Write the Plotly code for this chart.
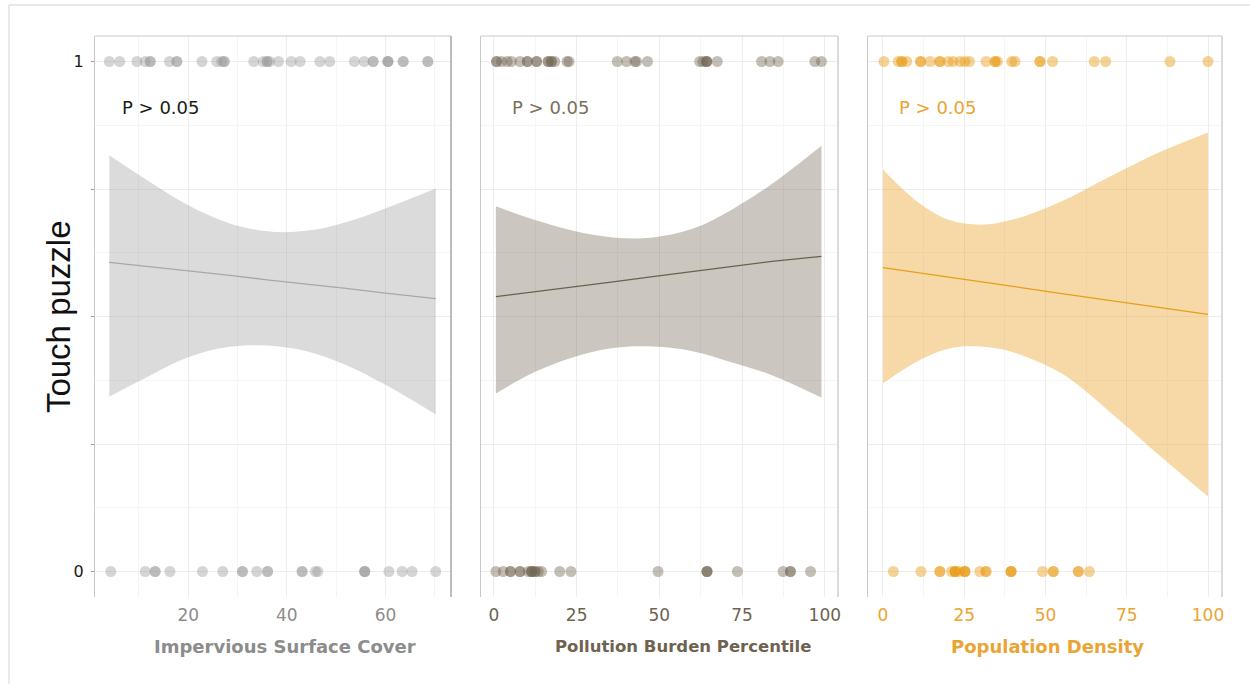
import plotly.graph_objects as go

# ---- outcome: Touch puzzle (0/1) against three neighbourhood measures ----

# Impervious surface cover
imp_x1 = [4.0, 6.1, 9.6, 11.3, 12.3, 12.3, 16.2, 17.7, 17.7, 22.8, 25.8, 26.8, 27.3, 27.3,
          33.3, 35.2, 36.0, 36.0, 36.5, 38.3, 40.9, 42.7, 46.7, 48.7, 53.7, 55.7, 57.5, 57.5,
          60.5, 60.5, 60.5, 63.6, 63.6, 68.6, 68.6]
imp_x0 = [4.3, 11.3, 13.3, 13.3, 16.3, 22.9, 27.0, 31.0, 31.0, 33.9, 36.1, 36.1, 43.1, 43.1,
          45.8, 46.3, 55.8, 55.8, 55.8, 60.7, 63.4, 65.4, 70.2]
imp_fit_x = [4.0, 12.0, 20.0, 28.0, 36.0, 44.0, 52.0, 60.0, 70.2]
imp_fit = [0.606, 0.598, 0.589, 0.581, 0.572, 0.564, 0.555, 0.546, 0.535]
imp_hi = [0.816, 0.765, 0.718, 0.684, 0.667, 0.668, 0.685, 0.712, 0.751]
imp_lo = [0.343, 0.383, 0.420, 0.440, 0.443, 0.432, 0.405, 0.366, 0.308]

# Pollution burden percentile
pol_x1 = [0.8, 0.8, 2.3, 4.0, 5.3, 7.9, 10.1, 10.1, 12.9, 12.9, 16.4, 16.4, 17.4, 17.4, 18.4,
          22.1, 22.7, 37.3, 40.1, 42.6, 43.1, 46.4, 62.2, 63.2, 64.3, 64.3, 64.3, 67.5,
          80.9, 83.4, 85.9, 97.0, 99.0]
pol_x0 = [0.6, 2.8, 5.0, 5.0, 7.9, 7.9, 10.4, 11.4, 11.4, 11.4, 12.4, 12.4, 13.4, 14.4,
          19.9, 23.3, 49.6, 64.4, 64.4, 64.4, 73.6, 87.4, 89.6, 89.6, 95.7]
pol_fit_x = [0.6, 12.0, 24.0, 36.0, 48.0, 60.0, 72.0, 84.0, 99.0]
pol_fit = [0.539, 0.548, 0.558, 0.568, 0.578, 0.588, 0.598, 0.608, 0.618]
pol_hi = [0.716, 0.690, 0.668, 0.655, 0.655, 0.672, 0.710, 0.760, 0.835]
pol_lo = [0.349, 0.390, 0.420, 0.438, 0.441, 0.432, 0.410, 0.385, 0.341]

# Population density
pop_x1 = [0.3, 4.7, 5.8, 5.8, 7.3, 11.6, 11.6, 14.5, 17.5, 17.5, 20.1, 21.6, 23.7, 25.2,
          26.6, 31.7, 34.5, 34.5, 35.2, 39.6, 40.6, 48.3, 48.3, 52.2, 65.0, 68.5, 88.3, 100.0]
pop_x0 = [3.2, 11.7, 17.5, 17.5, 21.1, 22.2, 22.2, 22.2, 23.5, 25.2, 25.2, 25.2, 29.8,
          31.7, 31.7, 39.4, 39.4, 39.4, 49.1, 52.4, 52.4, 60.1, 60.1, 63.5]
pop_fit_x = [0.0, 10.0, 20.0, 30.0, 40.0, 55.0, 70.0, 85.0, 100.0]
pop_fit = [0.596, 0.587, 0.578, 0.568, 0.559, 0.545, 0.531, 0.518, 0.504]
pop_hi = [0.788, 0.728, 0.690, 0.680, 0.690, 0.726, 0.775, 0.822, 0.861]
pop_lo = [0.369, 0.410, 0.437, 0.441, 0.430, 0.388, 0.312, 0.228, 0.147]

panels = [
    dict(title="Impervious Surface Cover", x1=imp_x1, x0=imp_x0, fx=imp_fit_x, fy=imp_fit,
         hi=imp_hi, lo=imp_lo, rng=[1.1, 73.3], ticks=[20, 40, 60], minor=[10, 30, 50, 70],
         dom=[0.0, 0.3159], pt="rgba(150,150,150,0.40)", band="rgba(153,153,153,0.35)",
         line="#a8a8a8", text="#8c8c8c", ptxt="#1a1a1a", edge="#9a9a9a", px=6.2,
         tpos=0.534, tsize=18),
    dict(title="Pollution Burden Percentile", x1=pol_x1, x0=pol_x0, fx=pol_fit_x, fy=pol_fit,
         hi=pol_hi, lo=pol_lo, rng=[-3.9, 104.0], ticks=[0, 25, 50, 75, 100],
         minor=[12.5, 37.5, 62.5, 87.5], dom=[0.3425, 0.6593],
         pt="rgba(111,100,80,0.42)", band="rgba(111,100,80,0.36)",
         line="#6b604c", text="#6e6350", ptxt="#7a6f5c", edge="#c8c8c8", px=4.8,
         tpos=0.567, tsize=16.5),
    dict(title="Population Density", x1=pop_x1, x0=pop_x0, fx=pop_fit_x, fy=pop_fit,
         hi=pop_hi, lo=pop_lo, rng=[-4.6, 104.3], ticks=[0, 25, 50, 75, 100],
         minor=[12.5, 37.5, 62.5, 87.5], dom=[0.6859, 1.0],
         pt="rgba(232,156,22,0.45)", band="rgba(232,156,22,0.38)",
         line="#e89e1c", text="#eaa433", ptxt="#eaa433", edge="#c8c8c8", px=4.3,
         tpos=0.508, tsize=18),
]

FONT = "DejaVu Sans"
fig = go.Figure()
shapes = []
annotations = []

for i, p in enumerate(panels, start=1):
    xa = "x" if i == 1 else f"x{i}"
    ya = "y" if i == 1 else f"y{i}"

    # confidence band (smoothed edges)
    fig.add_trace(go.Scatter(x=p["fx"], y=p["hi"], mode="lines",
                             line=dict(width=0, shape="spline", smoothing=1.0),
                             hoverinfo="skip", showlegend=False, xaxis=xa, yaxis=ya))
    fig.add_trace(go.Scatter(x=p["fx"], y=p["lo"], mode="lines",
                             line=dict(width=0, shape="spline", smoothing=1.0),
                             fill="tonexty", fillcolor=p["band"], hoverinfo="skip",
                             showlegend=False, xaxis=xa, yaxis=ya))
    # fitted line
    fig.add_trace(go.Scatter(x=p["fx"], y=p["fy"], mode="lines",
                             line=dict(color=p["line"], width=1.3),
                             showlegend=False, xaxis=xa, yaxis=ya))
    # observations
    fig.add_trace(go.Scatter(x=p["x1"], y=[1] * len(p["x1"]), mode="markers",
                             marker=dict(size=11, color=p["pt"], line=dict(width=0)),
                             showlegend=False, xaxis=xa, yaxis=ya))
    fig.add_trace(go.Scatter(x=p["x0"], y=[0] * len(p["x0"]), mode="markers",
                             marker=dict(size=11, color=p["pt"], line=dict(width=0)),
                             showlegend=False, xaxis=xa, yaxis=ya))

    xkey = "xaxis" if i == 1 else f"xaxis{i}"
    ykey = "yaxis" if i == 1 else f"yaxis{i}"
    fig.layout[xkey] = dict(
        domain=p["dom"], anchor=ya, range=p["rng"], tickvals=p["ticks"],
        showline=False, zeroline=False, ticks="", showgrid=True,
        gridcolor="#ededed", gridwidth=1, ticklabelstandoff=6,
        minor=dict(tickvals=p["minor"], showgrid=True, gridcolor="#f5f5f5", gridwidth=1),
        tickfont=dict(family=FONT, size=17, color=p["text"]),
    )
    fig.layout[ykey] = dict(
        domain=[0, 1], anchor=xa, range=[-0.05, 1.05],
        tickvals=[0, 0.25, 0.5, 0.75, 1],
        ticktext=["0", "", "", "", "1"] if i == 1 else ["", "", "", "", ""],
        showticklabels=(i == 1), ticks="outside" if i == 1 else "", ticklen=3,
        tickcolor="#9a9a9a", zeroline=False, showgrid=True, gridcolor="#ededed",
        minor=dict(tickvals=[0.125, 0.375, 0.625, 0.875], showgrid=True,
                   gridcolor="#f5f5f5", gridwidth=1),
        showline=True, mirror=False, linecolor="#c8c8c8", linewidth=1,
        tickfont=dict(family=FONT, size=16, color="#1a1a1a"),
        ticklabelstandoff=4 if i == 1 else 0,
    )

    # panel frame: top and right edges
    shapes.append(dict(type="line", xref=f"{xa} domain", yref=f"{ya} domain",
                       x0=0, x1=1, y0=1, y1=1, line=dict(color="#c8c8c8", width=1)))
    shapes.append(dict(type="line", xref=f"{xa} domain", yref=f"{ya} domain",
                       x0=1, x1=1, y0=0, y1=1, line=dict(color=p["edge"], width=1.3)))

    # significance note
    annotations.append(dict(text="P > 0.05", x=p["px"], y=0.91, xref=xa, yref=ya,
                            xanchor="left", yanchor="middle", showarrow=False,
                            font=dict(family=FONT, size=18, color=p["ptxt"])))
    # x-axis title
    annotations.append(dict(text=p["title"], x=p["tpos"], y=-0.089,
                            xref=f"{xa} domain", yref=f"{ya} domain",
                            xanchor="center", yanchor="middle", showarrow=False,
                            font=dict(family=FONT, size=p["tsize"], color=p["text"],
                                      weight="bold")))

# shared y-axis title
annotations.append(dict(text="Touch puzzle", x=-0.0328, y=0.499, xref="paper", yref="paper",
                        xanchor="center", yanchor="middle", textangle=-90, showarrow=False,
                        font=dict(family="Liberation Sans", size=33, color="#111111")))

# outer frame of the figure
shapes.append(dict(type="line", xref="paper", yref="paper", x0=-0.0763, x1=1.03,
                   y0=1.0553, y1=1.0553, line=dict(color="#d4d4d4", width=1)))
shapes.append(dict(type="line", xref="paper", yref="paper", x0=-0.0763, x1=-0.0763,
                   y0=1.0553, y1=-0.16, line=dict(color="#d4d4d4", width=1)))

fig.update_layout(
    width=1250, height=684,
    margin=dict(l=95, r=28, t=36, b=87),
    paper_bgcolor="white", plot_bgcolor="white",
    shapes=shapes, annotations=annotations, showlegend=False,
)

fig.write_html("out.html")
